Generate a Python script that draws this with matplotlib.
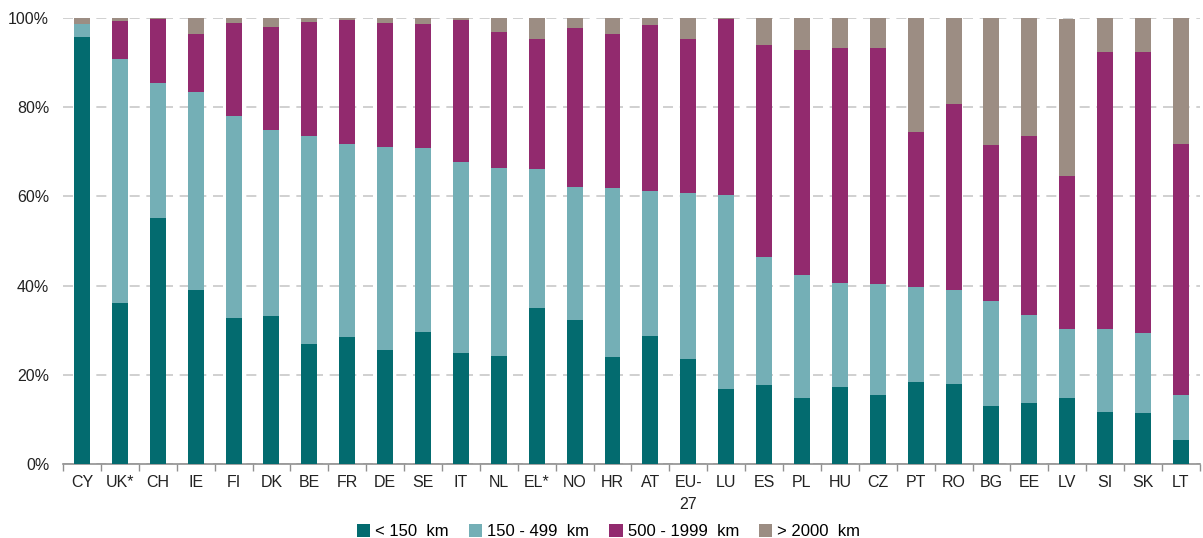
import matplotlib
matplotlib.use("Agg")
import matplotlib.pyplot as plt
import numpy as np
from matplotlib.patches import Patch

plt.rcParams['font.family'] = ['Liberation Sans', 'DejaVu Sans']

categories = ["CY", "UK*", "CH", "IE", "FI", "DK", "BE", "FR", "DE", "SE", "IT", "NL", "EL*", "NO",
              "HR", "AT", "EU-\n27", "LU", "ES", "PL", "HU", "CZ", "PT", "RO", "BG", "EE", "LV", "SI", "SK", "LT"]
lt150 = [95.7, 36.2, 55.2, 39.0, 32.7, 33.2, 26.9, 28.5, 25.6, 29.6, 24.9, 24.2, 35.0, 32.3,
         24.0, 28.7, 23.5, 16.8, 17.7, 14.8, 17.3, 15.5, 18.4, 17.9, 13.0, 13.7, 14.8, 11.7, 11.4, 5.4]
r150_499 = [3.0, 54.6, 30.2, 44.4, 45.3, 41.7, 46.6, 43.2, 45.5, 41.3, 42.8, 42.2, 31.1, 29.8,
            37.9, 32.5, 37.3, 43.5, 28.7, 27.6, 23.3, 24.9, 21.3, 21.1, 23.5, 19.7, 15.5, 18.6, 18.0, 10.1]
r500_1999 = [0.0, 8.6, 14.4, 13.1, 20.9, 23.1, 25.6, 27.9, 27.8, 27.8, 31.9, 30.5, 29.2, 35.7,
             34.5, 37.2, 34.5, 39.5, 47.5, 50.4, 52.7, 52.9, 34.7, 41.7, 35.0, 40.1, 34.3, 62.1, 63.0, 56.2]
gt2000 = [1.3, 0.6, 0.2, 3.5, 1.1, 2.0, 0.9, 0.4, 1.1, 1.3, 0.4, 3.1, 4.7, 2.2,
          3.6, 1.6, 4.7, 0.2, 6.1, 7.2, 6.7, 6.7, 25.6, 19.3, 28.5, 26.5, 35.2, 7.6, 7.6, 28.3]
series_labels = ["< 150  km", "150 - 499  km", "500 - 1999  km", "> 2000  km"]
colors = ["#036B6F", "#74AFB6", "#922A6E", "#9C8D83"]

fig = plt.figure(figsize=(12.03, 5.38), dpi=100)
ax = fig.add_axes([0.0524, 0.1375, 0.945, 0.829])

x = np.arange(len(categories))
bottom = np.zeros(len(categories))
for vals, col, lab in zip([lt150, r150_499, r500_1999, gt2000], colors, series_labels):
    v = np.array(vals)
    ax.bar(x, v, bottom=bottom, width=0.42, color=col, label=lab, zorder=3)
    bottom += v

ax.set_xlim(-0.5, len(categories) - 0.5)
ax.set_ylim(0, 100)
ax.set_yticks([0, 20, 40, 60, 80, 100])
ax.set_yticklabels([f"{t}%" for t in [0, 20, 40, 60, 80, 100]], fontsize=11.5, color="#222222")
ax.tick_params(axis='y', length=0, pad=10)
ax.grid(axis='y', color="#C8C8C8", linestyle=(0, (6, 4)), linewidth=1.2, zorder=0)

ax.set_xticks(x)
ax.set_xticklabels(categories, fontsize=11.5, color="#222222", linespacing=1.6)
ax.tick_params(axis='x', which='major', length=0, pad=8)
ax.set_xticks(np.arange(-0.5, len(categories), 1.0), minor=True)
ax.tick_params(axis='x', which='minor', length=5, color="#909090", width=1)

for s in ['top', 'right', 'left']:
    ax.spines[s].set_visible(False)
ax.spines['bottom'].set_color("#909090")
ax.spines['bottom'].set_linewidth(1.2)

handles = [Patch(facecolor=c, edgecolor='none') for c in colors]
fig.legend(handles, series_labels, loc='center', bbox_to_anchor=(0.506, 0.012), ncol=4,
           frameon=False, fontsize=12, handlelength=0.8, handleheight=0.8,
           handletextpad=0.3, columnspacing=1.2)

fig.savefig("out.png", dpi=100)
